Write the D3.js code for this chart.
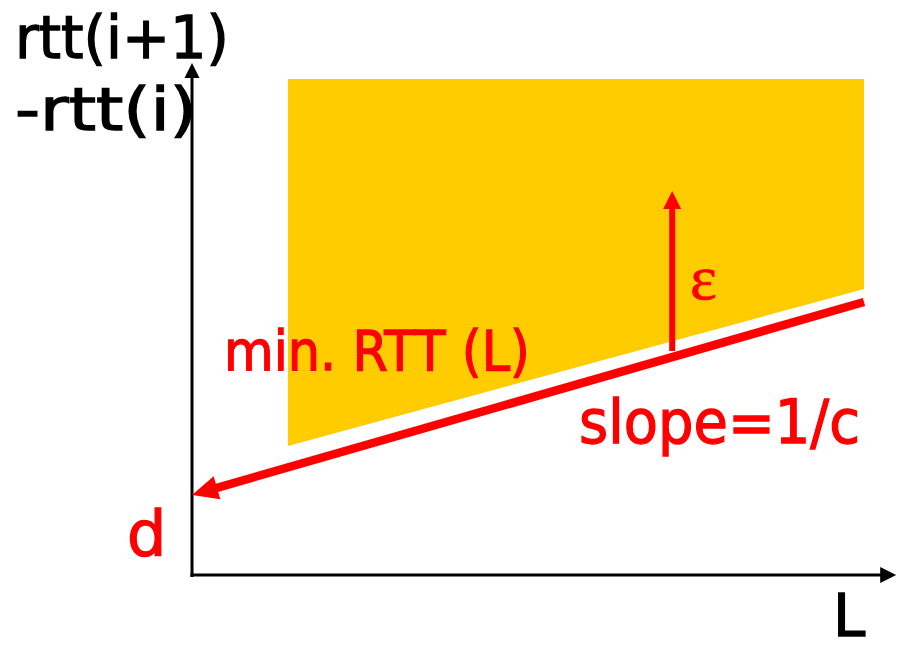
<!DOCTYPE html>
<html>
<head>
<meta charset="utf-8">
<script src="https://cdn.jsdelivr.net/npm/d3@7"></script>
<style>
  html, body { margin: 0; padding: 0; background: #fff; }
  svg { display: block; }
  .lbl { font-family: "Comic Sans MS", "DejaVu Sans", sans-serif; }
</style>
</head>
<body>
<svg id="chart" width="901" height="652"></svg>
<script>
// Feasible region of rtt(i+1) - rtt(i) versus packet size L
const regionL   = [13.7, 96, 96, 13.7];
const regionRTT = [99.2, 99.2, 57.2, 25.8];

// Lower bound: min. RTT (L), intercept d, slope 1/c
const minLineL   = [96, 0];
const minLineRTT = [54.6, 16.0];

// Epsilon offset above the lower bound
const epsL   = [68.6, 68.6];
const epsRTT = [44.8, 76.8];

// Axis extents (arrow tips)
const axisMaxL = 100.6;
const axisMaxRTT = 102.4;

const svg = d3.select("#chart");
const x = d3.scaleLinear().domain([0, 100]).range([192, 892]);
const y = d3.scaleLinear().domain([0, 100]).range([575, 75]);

// Shaft plus a filled triangular head whose tip sits at the end point
function arrow(p0, p1, width, headLen, headWid, color) {
  const dx = p1[0] - p0[0], dy = p1[1] - p0[1];
  const len = Math.hypot(dx, dy);
  const ux = dx / len, uy = dy / len;
  const bx = p1[0] - ux * headLen, by = p1[1] - uy * headLen;
  svg.append("path")
    .attr("d", d3.line()([p0, [bx + ux * 1, by + uy * 1]]))
    .attr("stroke", color).attr("stroke-width", width)
    .attr("fill", "none");
  const nx = -uy, ny = ux;
  svg.append("path")
    .attr("d", d3.line()([
      p1,
      [bx + nx * headWid / 2, by + ny * headWid / 2],
      [bx - nx * headWid / 2, by - ny * headWid / 2]
    ]) + "Z")
    .attr("fill", color);
}

// Region
const pts = regionL.map((l, i) => [x(l), y(regionRTT[i])]);
svg.append("path")
  .attr("d", d3.line()(pts) + "Z")
  .attr("fill", "#ffcc00");

// Axes
arrow([x(0), y(0) + 2], [x(0), y(axisMaxRTT)], 3, 15, 15, "#000");
arrow([x(0) - 1.5, y(0)], [x(axisMaxL), y(0)], 3, 16, 16, "#000");

// Lower bound line with arrow to intercept d
const minPts = minLineL.map((l, i) => [x(l), y(minLineRTT[i])]);
arrow(minPts[0], minPts[1], 8.5, 26, 24, "#ff0000");

// Epsilon arrow
const epsPts = epsL.map((l, i) => [x(l), y(epsRTT[i])]);
arrow(epsPts[0], epsPts[1], 6, 18, 18, "#ff0000");

// Labels
function label(txt, px, py, size, color, len, family) {
  const t = svg.append("text")
    .attr("class", "lbl")
    .attr("x", px).attr("y", py)
    .attr("font-size", size)
    .attr("fill", color)
    .attr("stroke", color)
    .attr("stroke-width", 1.3)
    .text(txt);
  if (family) t.style("font-family", family).attr("stroke-width", 0.6);
  if (len) t.attr("textLength", len).attr("lengthAdjust", "spacingAndGlyphs");
  return t;
}
label("rtt(i+1)", 15, 58, 58, "#000", 214);
label("-rtt(i)", 15, 130, 58, "#000", 182);
label("min. RTT (L)", 224, 370, 56, "#ff0000", 306);
label("slope=1/c", 579, 443, 60, "#ff0000", 281);
label("d", 127, 555, 62, "#ff0000");
label("L", 833, 636, 58, "#000");
label("ε", 690, 299, 64, "#ff0000", null, "'Liberation Serif', 'DejaVu Serif', serif");
</script>
</body>
</html>
